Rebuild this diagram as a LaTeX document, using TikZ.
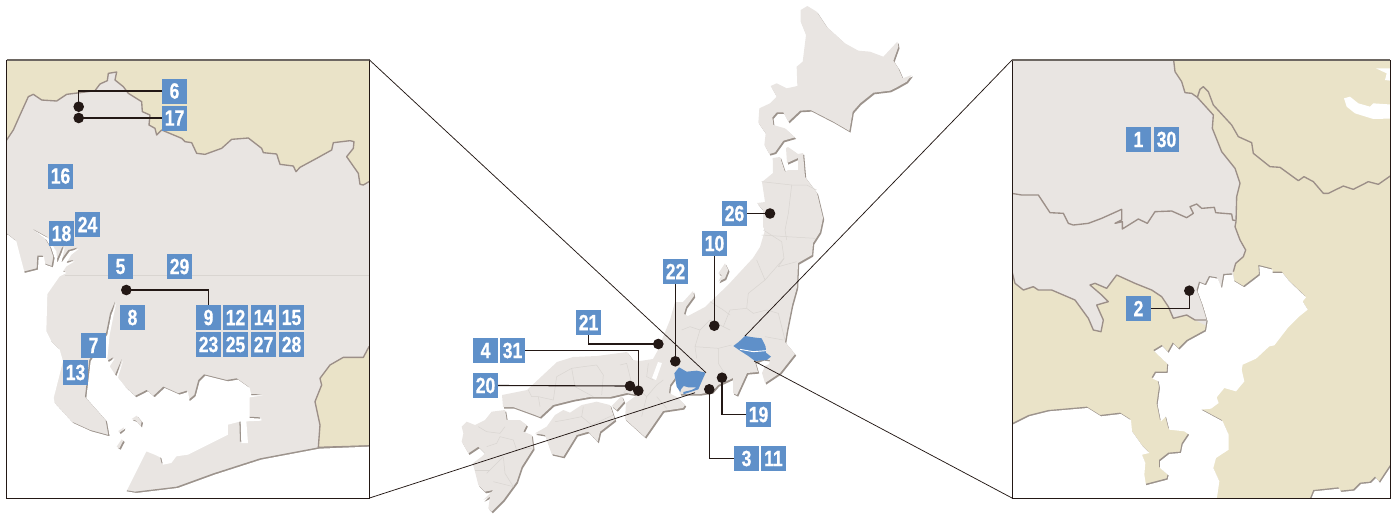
\documentclass[tikz,border=0pt]{standalone}
\usepackage{fontspec}
\newfontfamily\numfont{Liberation Sans Bold}[FakeStretch=0.8,FakeBold=0.6]
\definecolor{landc}{HTML}{E9E5E2}
\definecolor{beigec}{HTML}{EAE3C8}
\definecolor{shadowc}{HTML}{9C938C}
\definecolor{borderc}{HTML}{9C8F88}
\definecolor{prefc}{HTML}{D9D5D1}
\definecolor{bluec}{HTML}{5F90C9}
\definecolor{darkc}{HTML}{231815}
\tikzset{
 numbox/.style={fill=bluec,text=white,minimum size=25pt,inner sep=0pt,font=\numfont\fontsize{22}{22}\selectfont},
 pin/.style={circle,fill=darkc,minimum size=10.6pt,inner sep=0pt},
 conn/.style={draw=darkc,line width=1.1pt},
 leader/.style={draw=darkc,line width=0.75pt},
 bord/.style={draw=borderc,line width=1.35pt,line join=round},
 pref/.style={draw=prefc,line width=0.5pt,line join=round},
 frameln/.style={draw=darkc,line width=1pt},
 frametop/.style={draw=black!30!shadowc,line width=1.2pt}
}
% left inset, units: 3x crop
\def\seaL{plot coordinates {(-30,-110)(20,-110)(45,-90)(58,-40)(70,5)(110,-5)(112,-43)(128,-43)(132,-20)(155,-12)(160,-40)(150,-70)(135,-95)(100,-122)(140,-100)(165,-60)(168,-25)(185,-65)(190,-72)(180,-25)(205,-60)(232,-67)(210,-50)(195,-25)(220,-30)(195,-15)(185,0)(195,5)(175,15)(138,68)(135,180)(150,210)(175,235)(185,270)(157,380)(160,395)(215,455)(270,480)(325,495)(317,450)(255,380)(268,270)(318,190)(330,130)(345,95)(337,130)(325,190)(318,262)(322,272)(340,262)(325,285)(345,315)(365,268)(350,318)(375,350)(405,378)(440,360)(460,378)(490,350)(535,370)(560,362)(565,390)(583,375)(595,330)(612,313)(680,330)(710,325)(745,350)(750,372)(785,372)(745,378)(745,440)(780,442)(780,448)(735,450)(740,515)(720,515)(718,450)(680,460)(680,490)(640,510)(600,530)(560,550)(525,555)(510,575)(485,580)(480,560)(460,550)(435,540)(375,660)(405,665)(530,650)(640,610)(780,565)(955,532)(1130,525)(1130,720)(-30,720)}}
\def\isleA{plot coordinates {(355,483)(372,472)(370,478)(358,488)}}
\def\isleB{plot coordinates {(350,530)(365,508)(370,512)(358,535)}}
\def\isleC{plot coordinates {(395,447)(410,437)(425,455)(422,468)(408,452)}}
\def\beigeLt{plot coordinates {(-20,-20)(1130,-20)(1130,395)(1107,395)(1090,405)(1080,403)(1075,370)(1040,320)(1060,295)(1062,275)(1050,272)(1000,278)(995,300)(950,325)(900,352)(888,365)(880,348)(840,343)(830,312)(790,308)(785,295)(745,264)(695,268)(665,295)(615,313)(590,310)(575,278)(555,275)(545,265)(485,240)(470,255)(465,235)(447,225)(450,195)(427,185)(425,155)(385,130)(370,110)(345,90)(350,66)(325,70)(322,92)(300,102)(285,122)(240,128)(200,133)(170,153)(125,150)(100,133)(85,140)(60,195)(40,240)(20,270)(-20,270)}}
\def\beigeLb{plot coordinates {(955,532)(960,465)(945,395)(965,345)(960,325)(990,285)(1030,262)(1090,262)(1107,230)(1130,230)(1130,527)}}
% right inset
\def\greyR{plot coordinates {(-20,-680)(500,-680)(510,-595)(530,-565)(540,-532)(560,-530)(577,-518)(625,-465)(622,-425)(650,-355)(690,-305)(705,-260)(695,-220)(693,-145)(690,-130)(705,-90)(722,-60)(715,-40)(692,-20)(685,5)(690,60)(610,170)(570,150)(545,135)(505,145)(490,110)(470,80)(440,60)(390,40)(335,15)(305,55)(270,40)(255,45)(290,75)(310,95)(275,105)(295,150)(288,185)(265,180)(250,145)(210,90)(140,60)(100,60)(85,50)(55,60)(30,40)(20,10)(-20,-10)}}
\def\seaR{plot coordinates {(605,150)(590,100)(575,60)(582,35)(600,42)(612,18)(635,22)(648,52)(655,12)(680,10)(685,30)(715,48)(762,12)(760,-15)(800,-5)(800,5)(830,5)(850,30)(900,78)(890,90)(905,115)(880,135)(845,170)(805,222)(790,225)(750,262)(710,280)(707,295)(715,330)(690,360)(655,350)(632,378)(638,395)(615,412)(585,415)(650,450)(668,490)(668,535)(630,560)(622,590)(640,630)(632,685)(632,720)(915,720)(915,685)(925,660)(1000,652)(1005,662)(1045,658)(1065,638)(1095,635)(1110,620)(1122,635)(1155,585)(1180,560)(1180,720)(-20,720)(-20,470)(20,460)(70,435)(130,420)(245,410)(285,435)(345,428)(375,447)(378,480)(410,525)(430,545)(408,550)(418,575)(415,610)(420,642)(485,625)(488,612)(462,590)(462,570)(490,548)(525,545)(530,520)(550,490)(535,480)(490,475)(480,435)(465,450)(455,400)(462,350)(458,330)(440,322)(450,305)(485,305)(487,280)(445,240)(470,225)(488,245)(503,218)(520,235)(545,210)(600,180)}}
\def\lakeA{plot coordinates {(1017,-515)(1035,-520)(1060,-500)(1095,-490)(1105,-500)(1180,-495)(1180,-455)(1105,-453)(1050,-470)(1025,-490)}}
\def\lakeB{plot coordinates {(1113,-605)(1180,-605)(1180,-565)(1140,-570)(1145,-590)}}
% main map
\def\hokkaido{plot coordinates {(242,30)(262,18)(290,35)(320,80)(375,130)(415,152)(450,155)(490,170)(532,125)(535,140)(520,182)(535,205)(548,235)(575,225)(560,245)(530,262)(510,272)(460,278)(420,310)(398,335)(388,393)(340,365)(272,330)(240,332)(205,365)(190,337)(170,337)(157,352)(160,375)(195,385)(225,412)(190,422)(165,457)(148,462)(133,435)(137,400)(115,368)(118,325)(150,310)(170,290)(152,258)(170,250)(200,265)(232,258)(230,200)(248,185)(258,105)(242,65)}}
\def\honshu{plot coordinates {(772.7,158)(780,157)(785,172)(788,170)(798,170)(798,158)(787,163)(786,148)(788,147)(798,154)(803,153)(805,177)(817,193)(823,218)(820,232)(813,243)(812,255)(798,263)(797,287)(792,305)(787,330)(785,342)(795,354)(780,373)(765,383)(762,373)(765,366)(769,364)(770,360)(763,359)(755,362)(758,372)(747,373)(737,395)(733,393)(733,378)(718,385)(712,392)(700,394)(691,394)(680,394)(675,378)(670,385)(669,393)(677,397)(685,405)(683,408)(663,411)(645,437)(625,419)(626,403)(637,395)(627,393)(610,397)(590,397)(573,400)(553,405)(540,417)(535,415)(513,407)(503,407)(502,395)(527,390)(557,362)(573,357)(597,356)(627,352)(633,360)(640,361)(653,359)(658,350)(663,337)(670,320)(675,302)(683,302)(693,291)(694,296)(686,307)(684,314)(688,316)(705,307)(728,285)(753,258)(760,247)(765,230)(763,227)(763,210)(757,203)(765,202)(762,182)(773,173)}}
\def\lakebiwa{plot coordinates {(652,378)(658,362)(662,363)(656,380)}}
\def\sado{plot coordinates {(205,130)(225,100)(235,120)(225,145)(205,155)(215,135)}}
\def\awaji{plot coordinates {(485,318)(515,288)(522,305)(500,330)}}
\def\shikoku{plot coordinates {(255,400)(290,380)(315,345)(340,330)(360,338)(395,315)(440,305)(480,315)(490,345)(495,360)(450,395)(443,425)(415,395)(380,405)(340,470)(305,462)(285,405)}}
\def\kyushu{plot coordinates {(35,380)(50,365)(75,375)(105,360)(125,335)(165,330)(170,360)(210,360)(230,375)(220,395)(245,405)(250,445)(215,500)(200,545)(160,600)(125,635)(115,625)(120,590)(100,600)(130,570)(105,575)(85,555)(75,515)(68,490)(95,470)(105,460)(85,440)(55,460)(35,425)(40,400)}}
\def\blueA{plot coordinates {(28,130)(42,112)(65,125)(95,122)(122,128)(112,150)(100,178)(55,193)(55,186)(80,180)(95,172)(70,172)(56,168)(48,178)(46,186)(35,170)}}
\def\blueB{plot coordinates {(205,48)(222,35)(240,18)(265,22)(290,25)(302,50)(303,68)(318,80)(305,90)(270,93)(250,78)(225,62)}}
\begin{document}
\begin{tikzpicture}[x=1pt,y=-1pt]
\useasboundingbox (0,0) rectangle (1395,515);
% ---------- left inset
\begin{scope}
 \clip (6.5,60) rectangle (369.5,498);
 \fill[landc] (6.5,60) rectangle (369.5,498);
 \draw[draw=prefc,line width=0.5pt] (65,275) -- (369.5,275);
 \begin{scope}[shift={(0,50)},scale=0.33333]
  \fill[beigec] \beigeLt -- cycle;
  \draw[bord] \beigeLt -- cycle;
 \end{scope}
 \begin{scope}[shift={(0,270)},scale=0.33333]
  \fill[beigec] \beigeLb -- cycle;
  \draw[bord] \beigeLb -- cycle;
  \fill[shadowc] \seaL -- cycle;
  \fill[white,xshift=4pt,yshift=-4pt] \seaL -- cycle;
  \fill[white] (-30,-110) rectangle (10,720);
  \foreach \isl in {\isleA,\isleB,\isleC}{
   \fill[shadowc,xshift=4pt,yshift=-4pt] \isl -- cycle;
   \fill[landc] \isl -- cycle;
  }
 \end{scope}
\end{scope}
\draw[frameln] (369.5,60) -- (369.5,498) -- (6.5,498) -- (6.5,60);
\draw[frametop] (6.5,60) -- (369.5,60);
% ---------- right inset
\begin{scope}
 \clip (1012,60) rectangle (1390,498);
 \fill[beigec] (1012,60) rectangle (1390,498);
 \begin{scope}[shift={(1005,270)},scale=0.33333]
  \fill[landc] \greyR -- cycle;
  \draw[bord] (500,-680)--(510,-595)--(530,-565)--(540,-532)--(560,-530)--(577,-518)--(625,-465)--(622,-425)--(650,-355)--(690,-305)--(705,-260)--(695,-220)--(693,-145)--(690,-130)--(705,-90)--(722,-60)--(715,-40)--(692,-20)--(685,5);
  \draw[bord] (605,150)--(570,150)--(545,135)--(505,145)--(490,110)--(470,80)--(440,60)--(390,40)--(335,15)--(305,55)--(270,40)--(255,45)--(290,75)--(310,95)--(275,105)--(295,150)--(288,185)--(265,180)--(250,145)--(210,90)--(140,60)--(100,60)--(85,50)--(55,60)--(30,40)--(20,0);
  \draw[bord] (577,-518)--(585,-542)--(595,-550)--(610,-535)--(625,-495)--(680,-435)--(700,-400)--(740,-382)--(745,-350)--(795,-310)--(825,-308)--(880,-268)--(897,-280)--(925,-265)--(955,-230)--(970,-230)--(1015,-252)--(1045,-242)--(1090,-265)--(1120,-257)--(1160,-285);
  \draw[bord] (20,-230)--(50,-225)--(100,-225)--(135,-172)--(175,-170)--(190,-140)--(205,-135)--(250,-140)--(290,-155)--(350,-182)--(350,-150)--(330,-140)--(352,-145)--(352,-123)--(400,-153)--(427,-140)--(450,-175)--(500,-177)--(545,-157)--(565,-170)--(555,-190)--(575,-198)--(590,-185)--(628,-188)--(632,-172)--(680,-168)--(683,-150)--(693,-148);
  \fill[shadowc] \seaR -- cycle;
  \fill[white,xshift=3pt,yshift=-4pt] \seaR -- cycle;
  \fill[white] \lakeA -- cycle;
  \fill[white] \lakeB -- cycle;
  \fill[white] (-20,470) rectangle (10,720);
 \end{scope}
\end{scope}
\draw[frameln] (1390,60) -- (1390,498) -- (1012,498) -- (1012,60);
\draw[frametop] (1012,60) -- (1390,60);
% ---------- main map: shadows then land
\fill[shadowc,xshift=1.2pt,yshift=-1.6pt] \honshu -- cycle;
\fill[landc] \honshu -- cycle;
\fill[white] \lakebiwa -- cycle;
\begin{scope}[shift={(720,0)},scale=0.33333]
 \fill[shadowc,xshift=3.6pt,yshift=-4.8pt] \hokkaido -- cycle;
 \fill[landc] \hokkaido -- cycle;
 \draw[pref] (125,545)--(215,555)--(260,555)--(290,570);
 \draw[pref] (215,555)--(205,640)--(195,690)--(200,720);
 \draw[pref] (125,705)--(200,710)--(285,715);
\end{scope}
\begin{scope}[shift={(650,230)},scale=0.33333]
 \fill[shadowc,xshift=3.6pt,yshift=-4.8pt] \sado -- cycle;
 \fill[landc] \sado -- cycle;
 \draw[pref] (340,0)--(395,35)--(402,85)--(385,110)--(440,95);
 \draw[pref] (320,90)--(345,150)--(320,170)--(295,190)--(290,235)--(310,250)--(350,240)--(385,250)--(405,330);
 \draw[pref] (345,150)--(402,85);
 \draw[pref] (290,235)--(240,240)--(220,290)--(240,300);
 \draw[pref] (180,215)--(220,240)--(240,255);
 \draw[pref] (95,300)--(120,290)--(150,300)--(135,350)--(140,385);
 \draw[pref] (150,300)--(180,270)--(220,290);
 \draw[pref] (205,355)--(205,400)--(230,440);
 \draw[pref] (205,355)--(245,345);
 \draw[pref] (345,320)--(400,330);
 \draw[pref] (135,350)--(205,355);
\end{scope}
\begin{scope}[shift={(665,330)},scale=0.33333]
 \fill[bluec] \blueA -- cycle;
 \fill[bluec] \blueB -- cycle;
 \draw[white,line width=0.9pt] (225,58)--(265,65)--(303,62);
\end{scope}
\begin{scope}[shift={(450,300)},scale=0.33333]
 \fill[shadowc,xshift=3.6pt,yshift=-4.8pt] \awaji -- cycle;
 \fill[landc] \awaji -- cycle;
 \fill[shadowc,xshift=3.6pt,yshift=-4.8pt] \shikoku -- cycle;
 \fill[landc] \shikoku -- cycle;
 \fill[shadowc,xshift=3.6pt,yshift=-4.8pt] \kyushu -- cycle;
 \fill[landc] \kyushu -- cycle;
 \draw[pref] (235,270)--(245,290)--(265,290)--(270,320);
 \draw[pref] (265,290)--(310,300)--(320,230)--(365,205)--(375,260)--(430,290);
 \draw[pref] (365,205)--(400,200)--(440,195)--(460,225)--(455,285);
 \draw[pref] (510,195)--(530,190)--(545,250)--(520,280);
 \draw[pref] (595,190)--(590,230)--(610,240);
 \draw[pref] (545,250)--(590,290)--(620,255)--(640,240);
 \draw[pref] (590,290)--(575,350);
 \draw[pref] (620,290)--(650,325);
 \draw[pref] (315,365)--(345,360)--(395,350)--(400,320);
 \draw[pref] (395,350)--(425,375)--(490,345);
 \draw[pref] (85,380)--(110,395)--(150,400)--(165,380);
 \draw[pref] (150,410)--(190,420)--(200,450)--(245,445);
 \draw[pref] (110,440)--(140,430)--(150,410);
 \draw[pref] (110,520)--(160,470)--(165,520)--(190,560);
 \draw[pref] (75,510)--(120,510);
 \draw[pref] (130,545)--(190,560);
\end{scope}
% ---------- leaders
\coordinate (lt) at (369.5,60);
\coordinate (lb) at (369.5,498);
\coordinate (lte) at (706,372.7);
\coordinate (lbe) at (695,392.7);
\coordinate (rt) at (1012,60);
\coordinate (rb) at (1012,498);
\coordinate (rte) at (745,336);
\coordinate (rbe) at (754,361);
\draw[leader] (lt) -- (lte);
\draw[leader] (lb) -- (lbe);
\draw[leader] (rt) -- (rte);
\draw[leader] (rb) -- (rbe);
% ---------- numbered boxes
\foreach \nm/\px/\py in {6/174.5/91,17/174.5/118,16/60.5/176,18/61.5/233.5,24/87.5/224.5,5/120.5/266.5,29/179.5/266.5,8/132.5/317.5,9/208.5/317.5,12/235.5/317.5,14/263.5/317.5,15/291.5/317.5,23/208.5/344.5,25/235.5/344.5,27/263.5/344.5,28/291.5/344.5,7/93.5/345.5,13/75.5/372.5,1/1138.5/139.5,30/1166.5/139.5,2/1138.5/308.5,21/588.5/322.5,4/485.5/350.5,31/512.5/350.5,20/485.5/385.5,22/675.5/271.5,10/714.5/243.5,19/758.5/414.5,3/746.5/458.5,11/773.5/458.5,26/734.5/213.5}
 \node[numbox] (b\nm) at (\px,\py) {\nm};
% ---------- pins
\foreach \nm/\px/\py in {6/78.7/106.7,17/78.7/118,9/126.3/290,2/1189.3/290.7,21/658.3/344,4/638.3/390.7,20/630/386,22/675.3/361.3,10/714.3/325.7,19/722/377.7,3/709.3/389.3,26/770/213.5}
 \node[pin] (d\nm) at (\px,\py) {};
% ---------- connectors
\draw[conn] (b6.west) -| (d6.center);
\draw[conn] (d17.center) -- (b17.west);
\draw[conn] (d9.center) -| (b9.north);
\draw[conn] (b2.east) -| (d2.center);
\draw[conn] (b21.south) |- (d21.center);
\draw[conn] (b31.east) -| (d4.center);
\draw[conn] (b20.east) -- (d20.center);
\draw[conn] (b22.south) -- (b22.south |- d22.center);
\draw[conn] (b10.south) -- (b10.south |- d10.center);
\draw[conn] (d19.center) |- (b19.west);
\draw[conn] (d3.center) |- (b3.west);
\draw[conn] (b26.east) -- (d26.center);
\end{tikzpicture}
\end{document}
